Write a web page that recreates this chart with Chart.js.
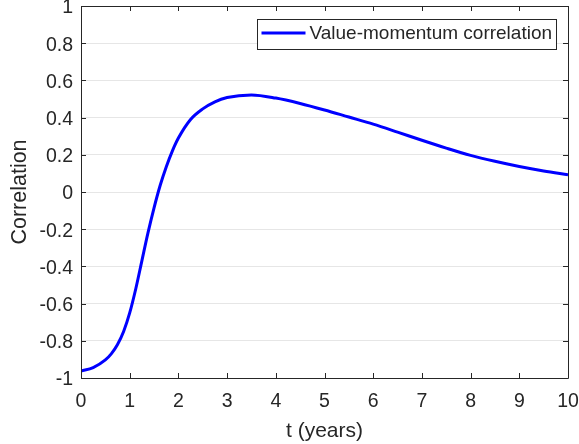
<!DOCTYPE html>
<html>
<head>
<meta charset="utf-8">
<script src="https://cdn.jsdelivr.net/npm/chart.js@4.4.0/dist/chart.umd.min.js"></script>
<style>
  html, body { margin: 0; padding: 0; background: #fff; }
  #wrap { width: 579px; height: 444px; }
</style>
</head>
<body>
<div id="wrap"><canvas id="corr"></canvas></div>
<script>
// data
const tYears = [0, 0.25, 0.5, 0.625, 0.75, 0.875, 1, 1.125, 1.25, 1.375, 1.5, 1.625, 1.75, 1.875, 2, 2.25, 2.5, 2.75, 3, 3.5, 4, 4.5, 5, 5.5, 6, 6.5, 7, 7.5, 8, 8.5, 9, 9.5, 10];
const corrValues = [-0.962, -0.944, -0.903, -0.869, -0.82, -0.75, -0.65, -0.52, -0.37, -0.22, -0.085, 0.035, 0.135, 0.22, 0.29, 0.39, 0.447, 0.485, 0.508, 0.522, 0.505, 0.476, 0.441, 0.403, 0.365, 0.322, 0.278, 0.236, 0.197, 0.165, 0.137, 0.113, 0.092];
const seriesLabel = 'Value-momentum correlation';
const xTitle = 't (years)';
const yTitle = 'Correlation';

const axisColor = '#262626';
const fontFamily = '"Liberation Sans", Arial, Helvetica, sans-serif';

// box around the axes, inward ticks, and the boxed legend in the top right
const matlabAxes = {
    id: 'matlabAxes',
    afterDraw(chart) {
        const ctx = chart.ctx;
        const a = chart.chartArea;
        const xs = chart.scales.x, ys = chart.scales.y;
        ctx.save();
        ctx.strokeStyle = axisColor;
        ctx.lineWidth = 1;
        ctx.beginPath();
        ctx.rect(Math.round(a.left) + 0.5, Math.round(a.top) + 0.5, Math.round(a.right - a.left), Math.round(a.bottom - a.top));
        xs.ticks.forEach(t => {
            const px = Math.round(xs.getPixelForValue(t.value)) + 0.5;
            ctx.moveTo(px, a.bottom); ctx.lineTo(px, a.bottom - 5);
            ctx.moveTo(px, a.top); ctx.lineTo(px, a.top + 5);
        });
        ys.ticks.forEach(t => {
            const py = Math.round(ys.getPixelForValue(t.value)) + 0.5;
            ctx.moveTo(a.left, py); ctx.lineTo(a.left + 5, py);
            ctx.moveTo(a.right, py); ctx.lineTo(a.right - 5, py);
        });
        ctx.stroke();

        // legend
        const ds = chart.data.datasets[0];
        const bx = 257.5, by = 19.5, bw = 299, bh = 30;
        ctx.fillStyle = '#fff';
        ctx.fillRect(bx, by, bw, bh);
        ctx.strokeStyle = axisColor;
        ctx.strokeRect(bx, by, bw, bh);
        ctx.strokeStyle = ds.borderColor;
        ctx.lineWidth = ds.borderWidth;
        ctx.beginPath();
        ctx.moveTo(bx + 4, by + 13.5);
        ctx.lineTo(bx + 48, by + 13.5);
        ctx.stroke();
        ctx.fillStyle = axisColor;
        ctx.font = '19px ' + fontFamily;
        ctx.textBaseline = 'middle';
        ctx.textAlign = 'left';
        ctx.fillText(ds.label, bx + 52, by + 14.5);
        ctx.restore();
    }
};

const ctx = document.getElementById('corr').getContext('2d');
const chart = new Chart(ctx, {
    type: 'line',
    data: {
        datasets: [{
            label: seriesLabel,
            data: tYears.map((t, i) => ({x: t, y: corrValues[i]})),
            borderColor: '#0000ff',
            backgroundColor: '#0000ff',
            borderWidth: 3,
            pointRadius: 0,
            cubicInterpolationMode: 'monotone',
            fill: false
        }]
    },
    options: {
        responsive: true,
        maintainAspectRatio: false,
        animation: false,
        layout: { padding: { top: 6, right: 11, left: 0, bottom: 0 } },
        plugins: {
            legend: { display: false },
            tooltip: { enabled: false }
        },
        scales: {
            x: {
                type: 'linear',
                min: 0, max: 10,
                ticks: {
                    stepSize: 1,
                    color: axisColor,
                    font: { family: fontFamily, size: 19.5 },
                    padding: 4,
                    maxRotation: 0
                },
                grid: { display: false },
                border: { display: false },
                title: {
                    display: true,
                    text: xTitle,
                    color: axisColor,
                    font: { family: fontFamily, size: 21 },
                    padding: { top: 0, bottom: 0 }
                },
                afterFit(scale) {
                    scale.height = 66;
                    scale.paddingRight = 0;
                    scale.paddingLeft = 0;
                }
            },
            y: {
                min: -1, max: 1,
                ticks: {
                    stepSize: 0.2,
                    color: axisColor,
                    font: { family: fontFamily, size: 19.5 },
                    padding: 8,
                    labelOffset: 2,
                    callback: v => Number(v.toFixed(1)).toString()
                },
                grid: { color: '#e6e6e6', lineWidth: 1, drawTicks: false },
                border: { display: false },
                title: {
                    display: true,
                    text: yTitle,
                    color: axisColor,
                    font: { family: fontFamily, size: 21.5 },
                    padding: { top: 7, bottom: 0 }
                },
                afterFit(scale) {
                    scale.width = 81;
                    scale.paddingTop = 0;
                    scale.paddingBottom = 0;
                }
            }
        }
    },
    plugins: [matlabAxes]
});
</script>
</body>
</html>
